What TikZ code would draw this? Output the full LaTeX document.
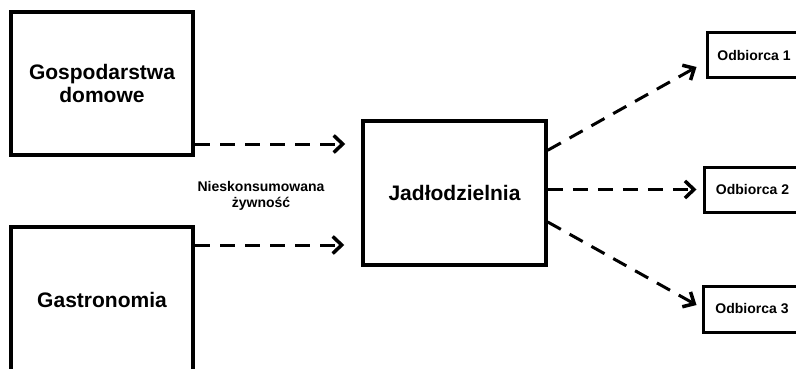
\documentclass[tikz,border=0pt]{standalone}
\usepackage{fontspec}
\setmainfont{Liberation Sans}
\usetikzlibrary{arrows.meta,calc}
\begin{document}
\begin{tikzpicture}[x=1pt,y=-1pt,
  bigbox/.style={draw=black,line width=4pt,fill=white,align=center,inner sep=0pt,
    font=\fontsize{21}{23}\selectfont\bfseries},
  jbox/.style={draw=black,line width=3.5pt,fill=white,align=center,inner sep=0pt,
    font=\fontsize{21}{23}\selectfont\bfseries},
  smallbox/.style={draw=black,line width=3pt,fill=white,inner sep=0pt,
    font=\fontsize{14}{16}\selectfont\bfseries},
  flow/.style={line width=3pt,dash pattern=on 15pt off 10pt,
    -{Straight Barb[length=9pt,width=17pt,line width=3.5pt]}},
  lbl/.style={align=center,inner sep=0pt,font=\fontsize{14}{16}\selectfont\bfseries}]
\useasboundingbox (0,0) rectangle (796,369);
\clip (0,0) rectangle (796,369);
\fill[white] (0,0) rectangle (796,369);

\node[bigbox,minimum width=182pt,minimum height=143pt] (gd) at (102,83.5) {Gospodarstwa\\domowe};
\node[bigbox,minimum width=182pt,minimum height=146pt] (ga) at (102,300) {Gastronomia};
\node[jbox,minimum width=183pt,minimum height=144pt] (j) at (454.5,193) {Jadłodzielnia};
\node[smallbox,minimum width=94pt,minimum height=45pt] (o1) at (754,55.5) {Odbiorca 1};
\node[smallbox,minimum width=97pt,minimum height=45pt] (o2) at (752.5,189.5) {Odbiorca 2};
\node[smallbox,minimum width=98pt,minimum height=46pt] (o3) at (752,309) {Odbiorca 3};

\node[lbl] (lab) at (261,195.5) {Nieskonsumowana\\żywność};

\coordinate (a1s) at ([yshift=13pt]gd.south east);
\coordinate (a2s) at ([yshift=-20pt]ga.north east);
\draw[flow] (a1s) -- ([xshift=-16pt]j.west |- a1s);
\draw[flow] (a2s) -- ([xshift=-17pt]j.west |- a2s);

\draw[flow] ([yshift=-31pt]j.north east) -- ([xshift=-9pt,yshift=-11.5pt]o1.west);
\draw[flow] (j.east |- o2.west) -- ([xshift=-6pt]o2.west);
\draw[flow] ([yshift=-29pt]j.east) -- ([xshift=-5pt,yshift=4pt]o3.west);
\end{tikzpicture}
\end{document}
